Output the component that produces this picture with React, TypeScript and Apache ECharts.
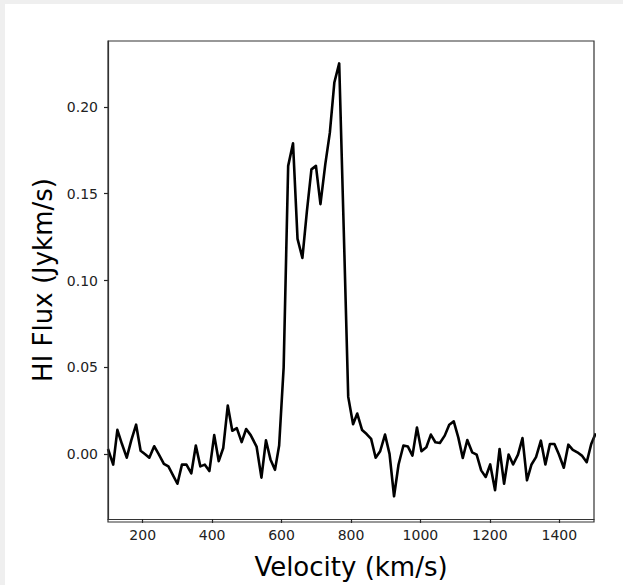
import React, { useEffect, useRef } from "react";
import * as echarts from "echarts";

// Velocity channels (km/s) and HI flux (Jy km/s)
const velocity: number[] = [
  100, 115, 127, 140, 154, 167, 181, 194, 207, 219, 233, 246, 261, 274, 287, 300,
  313, 326, 340, 353, 366, 379, 392, 406, 419, 432, 445, 458, 471, 485, 498, 511,
  528, 542, 555, 568, 581, 593, 606, 619, 633, 646, 660, 673, 686, 699, 712, 726,
  739, 752, 766, 779, 792, 806, 818, 832, 845, 858, 871, 884, 898, 911, 924, 937,
  951, 964, 977, 990, 1003, 1017, 1030, 1043, 1056, 1070, 1083, 1096, 1109, 1122, 1135, 1149,
  1162, 1175, 1188, 1201, 1215, 1228, 1241, 1254, 1267, 1281, 1294, 1307, 1320, 1333, 1347, 1360,
  1373, 1386, 1399, 1413, 1426, 1439, 1452, 1465, 1479, 1492, 1505,
];
const flux: number[] = [
  0.003, -0.006, 0.014, 0.006, -0.002, 0.008, 0.017, 0.002, 0.0, -0.002, 0.0046, 0.0, -0.0055, -0.007, -0.012, -0.017,
  -0.006, -0.006, -0.011, 0.005, -0.007, -0.006, -0.0097, 0.011, -0.004, 0.0036, 0.028, 0.0135, 0.015, 0.007, 0.0145, 0.011,
  0.0044, -0.0135, 0.008, -0.003, -0.009, 0.005, 0.05, 0.166, 0.179, 0.124, 0.113, 0.14, 0.164, 0.166, 0.144, 0.167,
  0.185, 0.214, 0.225, 0.13, 0.033, 0.0173, 0.0234, 0.0139, 0.0116, 0.0088, -0.002, 0.0017, 0.0113, 0.0002, -0.0242, -0.0059,
  0.005, 0.0044, -0.0008, 0.0154, 0.0017, 0.004, 0.0113, 0.0069, 0.0065, 0.0107, 0.017, 0.0189, 0.0097, -0.0021, 0.0082, 0.0011,
  -0.0002, -0.0093, -0.0131, -0.0059, -0.0207, 0.003, -0.017, -0.0002, -0.0059, -0.0002, 0.0093, -0.015, -0.0059, -0.0017, 0.0078, -0.0059,
  0.0059, 0.0059, -0.0002, -0.0078, 0.0055, 0.0025, 0.0011, -0.0008, -0.0046, 0.0059, 0.012,
];
const xTicks: number[] = [200, 400, 600, 800, 1000, 1200, 1400];
const yTicks: number[] = [0, 0.05, 0.1, 0.15, 0.2];

const FONT = "DejaVu Sans";

export default function App() {
  const ref = useRef<HTMLDivElement>(null);
  useEffect(() => {
    if (!ref.current) return;
    const chart = echarts.init(ref.current, undefined, { renderer: "svg" });
    const axisLineStyle = { color: "#333", width: 1.2 };
    chart.setOption({
      animation: false,
      backgroundColor: "#ffffff",
      grid: { left: 103, top: 37, right: 29, bottom: 63, show: false },
      xAxis: {
        type: "value",
        min: 100,
        max: 1500,
        name: "Velocity (km/s)",
        nameLocation: "middle",
        nameGap: 35,
        nameTextStyle: { fontFamily: FONT, fontSize: 26, color: "#000" },
        axisLine: { show: true, onZero: false, lineStyle: axisLineStyle },
        axisTick: { show: true, length: 4, inside: false, lineStyle: { color: "#222", width: 1.2 }, customValues: xTicks },
        axisLabel: { fontFamily: FONT, fontSize: 14, color: "#222", margin: 9, customValues: xTicks, formatter: (v: number) => String(v) },
        splitLine: { show: false },
      },
      yAxis: {
        type: "value",
        min: -0.0373,
        max: 0.2379,
        name: "HI Flux (Jykm/s)",
        nameLocation: "middle",
        nameGap: 52,
        nameTextStyle: { fontFamily: FONT, fontSize: 26, color: "#000" },
        axisLine: { show: true, onZero: false, lineStyle: axisLineStyle },
        axisTick: { show: true, length: 4, inside: false, lineStyle: { color: "#222", width: 1.2 }, customValues: yTicks },
        axisLabel: { fontFamily: FONT, fontSize: 14, color: "#222", margin: 10, customValues: yTicks, formatter: (v: number) => v.toFixed(2) },
        splitLine: { show: false },
      },
      graphic: [
        {
          type: "rect",
          shape: { x: 103, y: 37, width: 486, height: 481 },
          style: { fill: "none", stroke: "#333", lineWidth: 1.2 },
          silent: true,
          z: 100,
        },
      ],
      series: [
        {
          type: "line",
          data: velocity.map((v, i) => [v, flux[i]]),
          showSymbol: false,
          symbol: "none",
          clip: true,
          lineStyle: { color: "#000", width: 2.6, join: "round" },
        },
      ],
    });
    return () => chart.dispose();
  }, []);
  return (
    <div style={{ position: "fixed", left: 0, top: 0, width: 623, height: 585, background: "#efefef" }}>
      <div ref={ref} style={{ position: "absolute", left: 5, top: 4, width: 618, height: 581, background: "#fff" }} />
    </div>
  );
}
